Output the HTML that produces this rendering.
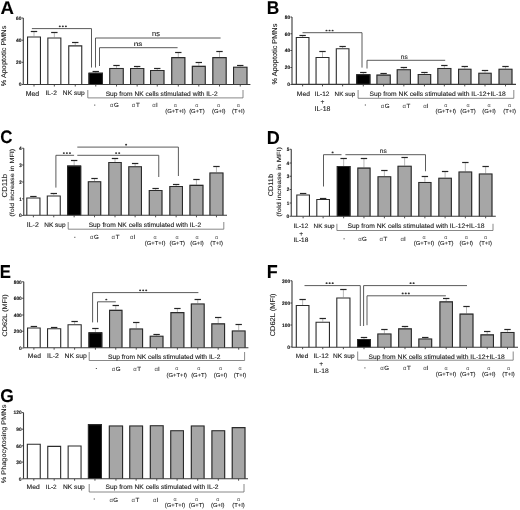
<!DOCTYPE html>
<html><head><meta charset="utf-8"><style>
html,body{margin:0;padding:0;background:#fff;}
svg{display:block;will-change:transform;filter:blur(0.3px);} text{text-rendering:geometricPrecision;stroke:#1c1c1c;stroke-width:0.1px;} text.nb{stroke:none;}
</style></head><body>
<svg width="520" height="510" viewBox="0 0 520 510">
<rect width="520" height="510" fill="#fff"/>
<text transform="translate(0.44,13.88) scale(1.014,1)" font-size="18.38" font-family="'Liberation Sans', sans-serif" font-weight="bold" fill="#000">A</text>
<line x1="23.30" y1="18.00" x2="23.30" y2="84.50" stroke="#3a3a3a" stroke-width="1.1"/>
<line x1="21.70" y1="84.50" x2="23.30" y2="84.50" stroke="#333" stroke-width="0.9"/>
<text transform="translate(18.65,86.26) scale(1.021,1)" font-size="4.90" font-family="'Liberation Sans', sans-serif" font-weight="bold" fill="#222" style="stroke-width:0.15px">0</text>
<line x1="21.70" y1="62.30" x2="23.30" y2="62.30" stroke="#333" stroke-width="0.9"/>
<text transform="translate(16.06,64.06) scale(0.981,1)" font-size="4.90" font-family="'Liberation Sans', sans-serif" font-weight="bold" fill="#222" style="stroke-width:0.15px">20</text>
<line x1="21.70" y1="40.20" x2="23.30" y2="40.20" stroke="#333" stroke-width="0.9"/>
<text transform="translate(15.96,41.96) scale(1.000,1)" font-size="4.90" font-family="'Liberation Sans', sans-serif" font-weight="bold" fill="#222" style="stroke-width:0.15px">40</text>
<line x1="21.70" y1="18.00" x2="23.30" y2="18.00" stroke="#333" stroke-width="0.9"/>
<text transform="translate(16.01,19.76) scale(0.990,1)" font-size="4.90" font-family="'Liberation Sans', sans-serif" font-weight="bold" fill="#222" style="stroke-width:0.15px">60</text>
<text transform="translate(6.30,86.19) rotate(-90) scale(1.067,1)" font-size="6.85" font-family="'Liberation Sans', sans-serif" font-weight="normal" fill="#1c1c1c" style="stroke-width:0.1px">% Apoptotic PMNs</text>
<line x1="34.00" y1="84.50" x2="34.00" y2="86.50" stroke="#3a3a3a" stroke-width="0.9"/>
<line x1="34.00" y1="36.40" x2="34.00" y2="31.80" stroke="#8a8a8a" stroke-width="0.6"/>
<line x1="30.80" y1="31.50" x2="37.20" y2="31.50" stroke="#262626" stroke-width="1.2"/>
<rect x="27.00" y="36.40" width="14.00" height="48.10" fill="#fff"/>
<path d="M27.55,84.50 V36.95 H40.45 V84.50" fill="none" stroke="#2b2b2b" stroke-width="1.1"/>
<line x1="54.35" y1="84.50" x2="54.35" y2="86.50" stroke="#3a3a3a" stroke-width="0.9"/>
<line x1="54.35" y1="37.50" x2="54.35" y2="32.50" stroke="#8a8a8a" stroke-width="0.6"/>
<line x1="51.15" y1="32.50" x2="57.55" y2="32.50" stroke="#262626" stroke-width="1.2"/>
<rect x="47.30" y="37.50" width="14.10" height="47.00" fill="#fff"/>
<path d="M47.85,84.50 V38.05 H60.85 V84.50" fill="none" stroke="#2b2b2b" stroke-width="1.1"/>
<line x1="75.25" y1="84.50" x2="75.25" y2="86.50" stroke="#3a3a3a" stroke-width="0.9"/>
<line x1="75.25" y1="45.30" x2="75.25" y2="42.70" stroke="#8a8a8a" stroke-width="0.6"/>
<line x1="72.05" y1="42.50" x2="78.45" y2="42.50" stroke="#262626" stroke-width="1.2"/>
<rect x="68.20" y="45.30" width="14.10" height="39.20" fill="#fff"/>
<path d="M68.75,84.50 V45.85 H81.75 V84.50" fill="none" stroke="#2b2b2b" stroke-width="1.1"/>
<line x1="95.75" y1="84.50" x2="95.75" y2="86.50" stroke="#3a3a3a" stroke-width="0.9"/>
<line x1="95.75" y1="72.70" x2="95.75" y2="71.50" stroke="#8a8a8a" stroke-width="0.6"/>
<line x1="92.55" y1="71.50" x2="98.95" y2="71.50" stroke="#262626" stroke-width="1.2"/>
<rect x="88.50" y="72.70" width="14.50" height="11.80" fill="#000"/>
<path d="M89.05,84.50 V73.25 H102.45 V84.50" fill="none" stroke="#2b2b2b" stroke-width="1.1"/>
<line x1="116.50" y1="84.50" x2="116.50" y2="86.50" stroke="#3a3a3a" stroke-width="0.9"/>
<line x1="116.50" y1="67.90" x2="116.50" y2="65.60" stroke="#8a8a8a" stroke-width="0.6"/>
<line x1="113.30" y1="65.50" x2="119.70" y2="65.50" stroke="#262626" stroke-width="1.2"/>
<rect x="109.20" y="67.90" width="14.60" height="16.60" fill="#a6a6a6"/>
<path d="M109.75,84.50 V68.45 H123.25 V84.50" fill="none" stroke="#2b2b2b" stroke-width="1.1"/>
<line x1="137.15" y1="84.50" x2="137.15" y2="86.50" stroke="#3a3a3a" stroke-width="0.9"/>
<line x1="137.15" y1="68.00" x2="137.15" y2="66.00" stroke="#8a8a8a" stroke-width="0.6"/>
<line x1="133.95" y1="66.50" x2="140.35" y2="66.50" stroke="#262626" stroke-width="1.2"/>
<rect x="130.00" y="68.00" width="14.30" height="16.50" fill="#a6a6a6"/>
<path d="M130.55,84.50 V68.55 H143.75 V84.50" fill="none" stroke="#2b2b2b" stroke-width="1.1"/>
<line x1="157.25" y1="84.50" x2="157.25" y2="86.50" stroke="#3a3a3a" stroke-width="0.9"/>
<line x1="157.25" y1="70.00" x2="157.25" y2="68.50" stroke="#8a8a8a" stroke-width="0.6"/>
<line x1="154.05" y1="68.50" x2="160.45" y2="68.50" stroke="#262626" stroke-width="1.2"/>
<rect x="150.00" y="70.00" width="14.50" height="14.50" fill="#a6a6a6"/>
<path d="M150.55,84.50 V70.55 H163.95 V84.50" fill="none" stroke="#2b2b2b" stroke-width="1.1"/>
<line x1="178.30" y1="84.50" x2="178.30" y2="86.50" stroke="#3a3a3a" stroke-width="0.9"/>
<line x1="178.30" y1="57.10" x2="178.30" y2="52.30" stroke="#8a8a8a" stroke-width="0.6"/>
<line x1="175.10" y1="52.50" x2="181.50" y2="52.50" stroke="#262626" stroke-width="1.2"/>
<rect x="171.20" y="57.10" width="14.20" height="27.40" fill="#a6a6a6"/>
<path d="M171.75,84.50 V57.65 H184.85 V84.50" fill="none" stroke="#2b2b2b" stroke-width="1.1"/>
<line x1="198.80" y1="84.50" x2="198.80" y2="86.50" stroke="#3a3a3a" stroke-width="0.9"/>
<line x1="198.80" y1="65.80" x2="198.80" y2="62.90" stroke="#8a8a8a" stroke-width="0.6"/>
<line x1="195.60" y1="62.50" x2="202.00" y2="62.50" stroke="#262626" stroke-width="1.2"/>
<rect x="191.80" y="65.80" width="14.00" height="18.70" fill="#a6a6a6"/>
<path d="M192.35,84.50 V66.35 H205.25 V84.50" fill="none" stroke="#2b2b2b" stroke-width="1.1"/>
<line x1="219.50" y1="84.50" x2="219.50" y2="86.50" stroke="#3a3a3a" stroke-width="0.9"/>
<line x1="219.50" y1="57.10" x2="219.50" y2="51.90" stroke="#8a8a8a" stroke-width="0.6"/>
<line x1="216.30" y1="51.50" x2="222.70" y2="51.50" stroke="#262626" stroke-width="1.2"/>
<rect x="212.30" y="57.10" width="14.40" height="27.40" fill="#a6a6a6"/>
<path d="M212.85,84.50 V57.65 H226.15 V84.50" fill="none" stroke="#2b2b2b" stroke-width="1.1"/>
<line x1="240.25" y1="84.50" x2="240.25" y2="86.50" stroke="#3a3a3a" stroke-width="0.9"/>
<line x1="240.25" y1="66.70" x2="240.25" y2="65.40" stroke="#8a8a8a" stroke-width="0.6"/>
<line x1="237.05" y1="65.50" x2="243.45" y2="65.50" stroke="#262626" stroke-width="1.2"/>
<rect x="233.00" y="66.70" width="14.50" height="17.80" fill="#a6a6a6"/>
<path d="M233.55,84.50 V67.25 H246.95 V84.50" fill="none" stroke="#2b2b2b" stroke-width="1.1"/>
<line x1="23.30" y1="84.50" x2="250.40" y2="84.50" stroke="#3a3a3a" stroke-width="1.1"/>
<text transform="translate(25.64,95.53) scale(1.030,1)" font-size="6.74" font-family="'Liberation Sans', sans-serif" font-weight="normal" fill="#1c1c1c" style="stroke-width:0.12px">Med</text>
<text transform="translate(45.50,95.44) scale(1.030,1)" font-size="6.51" font-family="'Liberation Sans', sans-serif" font-weight="normal" fill="#1c1c1c" style="stroke-width:0.12px">IL-2</text>
<text transform="translate(62.87,95.42) scale(1.030,1)" font-size="6.45" font-family="'Liberation Sans', sans-serif" font-weight="normal" fill="#1c1c1c" style="stroke-width:0.12px">NK sup</text>
<path d="M87.8,90.0 V97.9 H243.0 V90.0" fill="none" stroke="#6a6a6a" stroke-width="0.8"/>
<text transform="translate(105.67,95.52) scale(1.030,1)" font-size="6.44" font-family="'Liberation Sans', sans-serif" font-weight="normal" fill="#1c1c1c" style="stroke-width:0.12px">Sup from NK cells stimulated with IL-2</text>
<rect x="94.10" y="104.60" width="1.2" height="1.0" fill="#555"/>
<text class="nb" x="110.07" y="107.46" font-size="6.00" font-family="'Liberation Sans', sans-serif" fill="#4a4a4a">&#945;</text>
<text transform="translate(113.96,107.46) scale(1.030,1)" font-size="6.00" font-family="'Liberation Sans', sans-serif" font-weight="normal" fill="#1c1c1c">G</text>
<text class="nb" x="131.82" y="107.46" font-size="6.00" font-family="'Liberation Sans', sans-serif" fill="#4a4a4a">&#945;</text>
<text transform="translate(135.90,107.46) scale(1.030,1)" font-size="6.00" font-family="'Liberation Sans', sans-serif" font-weight="normal" fill="#1c1c1c">T</text>
<text class="nb" x="152.27" y="107.46" font-size="6.00" font-family="'Liberation Sans', sans-serif" fill="#4a4a4a">&#945;</text>
<text transform="translate(155.91,107.46) scale(1.030,1)" font-size="6.00" font-family="'Liberation Sans', sans-serif" font-weight="normal" fill="#1c1c1c">I</text>
<text class="nb" x="173.86" y="106.92" font-size="5.40" font-family="'Liberation Sans', sans-serif" fill="#4a4a4a">&#945;</text>
<text transform="translate(165.18,113.38) scale(1.030,1)" font-size="5.70" font-family="'Liberation Sans', sans-serif" font-weight="normal" fill="#1c1c1c">(G+T+I)</text>
<text class="nb" x="195.31" y="106.92" font-size="5.40" font-family="'Liberation Sans', sans-serif" fill="#4a4a4a">&#945;</text>
<text transform="translate(189.15,113.38) scale(1.030,1)" font-size="5.70" font-family="'Liberation Sans', sans-serif" font-weight="normal" fill="#1c1c1c">(G+T)</text>
<text class="nb" x="217.11" y="106.92" font-size="5.40" font-family="'Liberation Sans', sans-serif" fill="#4a4a4a">&#945;</text>
<text transform="translate(211.95,113.38) scale(1.030,1)" font-size="5.70" font-family="'Liberation Sans', sans-serif" font-weight="normal" fill="#1c1c1c">(G+I)</text>
<text class="nb" x="236.81" y="106.92" font-size="5.40" font-family="'Liberation Sans', sans-serif" fill="#4a4a4a">&#945;</text>
<text transform="translate(232.12,113.38) scale(1.030,1)" font-size="5.70" font-family="'Liberation Sans', sans-serif" font-weight="normal" fill="#1c1c1c">(T+I)</text>
<path d="M31.9,28.6 H91.5 V67.5" fill="none" stroke="#484848" stroke-width="0.9"/>
<ellipse cx="59.80" cy="26.30" rx="1.05" ry="0.85" fill="#333"/>
<ellipse cx="62.85" cy="26.30" rx="1.05" ry="0.85" fill="#333"/>
<ellipse cx="65.90" cy="26.30" rx="1.05" ry="0.85" fill="#333"/>
<path d="M95.5,67.5 V38 H220.6" fill="none" stroke="#484848" stroke-width="0.9"/>
<text transform="translate(151.98,36.33) scale(1.003,1)" font-size="7.45" font-family="'Liberation Sans', sans-serif" font-weight="normal" fill="#1c1c1c">ns</text>
<path d="M99.5,66 V47.7 H177.6" fill="none" stroke="#484848" stroke-width="0.9"/>
<text transform="translate(133.73,45.84) scale(1.290,1)" font-size="6.36" font-family="'Liberation Sans', sans-serif" font-weight="normal" fill="#1c1c1c">ns</text>
<text transform="translate(266.68,13.90) scale(0.929,1)" font-size="18.70" font-family="'Liberation Sans', sans-serif" font-weight="bold" fill="#000">B</text>
<line x1="292.00" y1="17.00" x2="292.00" y2="84.40" stroke="#3a3a3a" stroke-width="1.1"/>
<line x1="290.40" y1="84.50" x2="292.00" y2="84.50" stroke="#333" stroke-width="0.9"/>
<text transform="translate(287.35,86.26) scale(1.021,1)" font-size="4.90" font-family="'Liberation Sans', sans-serif" font-weight="bold" fill="#222" style="stroke-width:0.15px">0</text>
<line x1="290.40" y1="67.50" x2="292.00" y2="67.50" stroke="#333" stroke-width="0.9"/>
<text transform="translate(284.76,69.26) scale(0.981,1)" font-size="4.90" font-family="'Liberation Sans', sans-serif" font-weight="bold" fill="#222" style="stroke-width:0.15px">20</text>
<line x1="290.40" y1="50.50" x2="292.00" y2="50.50" stroke="#333" stroke-width="0.9"/>
<text transform="translate(284.66,52.26) scale(1.000,1)" font-size="4.90" font-family="'Liberation Sans', sans-serif" font-weight="bold" fill="#222" style="stroke-width:0.15px">40</text>
<line x1="290.40" y1="33.75" x2="292.00" y2="33.75" stroke="#333" stroke-width="0.9"/>
<text transform="translate(284.71,35.51) scale(0.990,1)" font-size="4.90" font-family="'Liberation Sans', sans-serif" font-weight="bold" fill="#222" style="stroke-width:0.15px">60</text>
<line x1="290.40" y1="17.00" x2="292.00" y2="17.00" stroke="#333" stroke-width="0.9"/>
<text transform="translate(284.71,18.76) scale(0.990,1)" font-size="4.90" font-family="'Liberation Sans', sans-serif" font-weight="bold" fill="#222" style="stroke-width:0.15px">80</text>
<text transform="translate(277.40,84.39) rotate(-90) scale(1.031,1)" font-size="7.12" font-family="'Liberation Sans', sans-serif" font-weight="normal" fill="#1c1c1c" style="stroke-width:0.1px">% Apoptotic PMNs</text>
<line x1="302.62" y1="84.40" x2="302.62" y2="86.40" stroke="#3a3a3a" stroke-width="0.9"/>
<line x1="302.62" y1="37.00" x2="302.62" y2="35.75" stroke="#8a8a8a" stroke-width="0.6"/>
<line x1="299.43" y1="35.50" x2="305.82" y2="35.50" stroke="#262626" stroke-width="1.2"/>
<rect x="295.75" y="37.00" width="13.75" height="47.40" fill="#fff"/>
<path d="M296.30,84.40 V37.55 H308.95 V84.40" fill="none" stroke="#2b2b2b" stroke-width="1.1"/>
<line x1="322.50" y1="84.40" x2="322.50" y2="86.40" stroke="#3a3a3a" stroke-width="0.9"/>
<line x1="322.50" y1="57.00" x2="322.50" y2="51.20" stroke="#8a8a8a" stroke-width="0.6"/>
<line x1="319.30" y1="51.50" x2="325.70" y2="51.50" stroke="#262626" stroke-width="1.2"/>
<rect x="315.50" y="57.00" width="14.00" height="27.40" fill="#fff"/>
<path d="M316.05,84.40 V57.55 H328.95 V84.40" fill="none" stroke="#2b2b2b" stroke-width="1.1"/>
<line x1="342.62" y1="84.40" x2="342.62" y2="86.40" stroke="#3a3a3a" stroke-width="0.9"/>
<line x1="342.62" y1="48.25" x2="342.62" y2="46.75" stroke="#8a8a8a" stroke-width="0.6"/>
<line x1="339.43" y1="46.50" x2="345.82" y2="46.50" stroke="#262626" stroke-width="1.2"/>
<rect x="335.75" y="48.25" width="13.75" height="36.15" fill="#fff"/>
<path d="M336.30,84.40 V48.80 H348.95 V84.40" fill="none" stroke="#2b2b2b" stroke-width="1.1"/>
<line x1="363.30" y1="84.40" x2="363.30" y2="86.40" stroke="#3a3a3a" stroke-width="0.9"/>
<line x1="363.30" y1="74.25" x2="363.30" y2="72.50" stroke="#8a8a8a" stroke-width="0.6"/>
<line x1="360.10" y1="72.50" x2="366.50" y2="72.50" stroke="#262626" stroke-width="1.2"/>
<rect x="356.20" y="74.25" width="14.20" height="10.15" fill="#000"/>
<path d="M356.75,84.40 V74.80 H369.85 V84.40" fill="none" stroke="#2b2b2b" stroke-width="1.1"/>
<line x1="383.60" y1="84.40" x2="383.60" y2="86.40" stroke="#3a3a3a" stroke-width="0.9"/>
<line x1="383.60" y1="74.60" x2="383.60" y2="73.00" stroke="#8a8a8a" stroke-width="0.6"/>
<line x1="380.40" y1="73.50" x2="386.80" y2="73.50" stroke="#262626" stroke-width="1.2"/>
<rect x="376.40" y="74.60" width="14.40" height="9.80" fill="#a6a6a6"/>
<path d="M376.95,84.40 V75.15 H390.25 V84.40" fill="none" stroke="#2b2b2b" stroke-width="1.1"/>
<line x1="403.85" y1="84.40" x2="403.85" y2="86.40" stroke="#3a3a3a" stroke-width="0.9"/>
<line x1="403.85" y1="69.20" x2="403.85" y2="67.30" stroke="#8a8a8a" stroke-width="0.6"/>
<line x1="400.65" y1="67.50" x2="407.05" y2="67.50" stroke="#262626" stroke-width="1.2"/>
<rect x="396.70" y="69.20" width="14.30" height="15.20" fill="#a6a6a6"/>
<path d="M397.25,84.40 V69.75 H410.45 V84.40" fill="none" stroke="#2b2b2b" stroke-width="1.1"/>
<line x1="424.45" y1="84.40" x2="424.45" y2="86.40" stroke="#3a3a3a" stroke-width="0.9"/>
<line x1="424.45" y1="74.00" x2="424.45" y2="72.70" stroke="#8a8a8a" stroke-width="0.6"/>
<line x1="421.25" y1="72.50" x2="427.65" y2="72.50" stroke="#262626" stroke-width="1.2"/>
<rect x="417.70" y="74.00" width="13.50" height="10.40" fill="#a6a6a6"/>
<path d="M418.25,84.40 V74.55 H430.65 V84.40" fill="none" stroke="#2b2b2b" stroke-width="1.1"/>
<line x1="444.35" y1="84.40" x2="444.35" y2="86.40" stroke="#3a3a3a" stroke-width="0.9"/>
<line x1="444.35" y1="67.90" x2="444.35" y2="65.20" stroke="#8a8a8a" stroke-width="0.6"/>
<line x1="441.15" y1="65.50" x2="447.55" y2="65.50" stroke="#262626" stroke-width="1.2"/>
<rect x="437.30" y="67.90" width="14.10" height="16.50" fill="#a6a6a6"/>
<path d="M437.85,84.40 V68.45 H450.85 V84.40" fill="none" stroke="#2b2b2b" stroke-width="1.1"/>
<line x1="464.75" y1="84.40" x2="464.75" y2="86.40" stroke="#3a3a3a" stroke-width="0.9"/>
<line x1="464.75" y1="68.70" x2="464.75" y2="66.00" stroke="#8a8a8a" stroke-width="0.6"/>
<line x1="461.55" y1="66.50" x2="467.95" y2="66.50" stroke="#262626" stroke-width="1.2"/>
<rect x="458.00" y="68.70" width="13.50" height="15.70" fill="#a6a6a6"/>
<path d="M458.55,84.40 V69.25 H470.95 V84.40" fill="none" stroke="#2b2b2b" stroke-width="1.1"/>
<line x1="485.00" y1="84.40" x2="485.00" y2="86.40" stroke="#3a3a3a" stroke-width="0.9"/>
<line x1="485.00" y1="72.70" x2="485.00" y2="70.80" stroke="#8a8a8a" stroke-width="0.6"/>
<line x1="481.80" y1="70.50" x2="488.20" y2="70.50" stroke="#262626" stroke-width="1.2"/>
<rect x="478.30" y="72.70" width="13.40" height="11.70" fill="#a6a6a6"/>
<path d="M478.85,84.40 V73.25 H491.15 V84.40" fill="none" stroke="#2b2b2b" stroke-width="1.1"/>
<line x1="505.50" y1="84.40" x2="505.50" y2="86.40" stroke="#3a3a3a" stroke-width="0.9"/>
<line x1="505.50" y1="68.70" x2="505.50" y2="66.00" stroke="#8a8a8a" stroke-width="0.6"/>
<line x1="502.30" y1="66.50" x2="508.70" y2="66.50" stroke="#262626" stroke-width="1.2"/>
<rect x="498.50" y="68.70" width="14.00" height="15.70" fill="#a6a6a6"/>
<path d="M499.05,84.40 V69.25 H511.95 V84.40" fill="none" stroke="#2b2b2b" stroke-width="1.1"/>
<line x1="292.00" y1="84.40" x2="516.00" y2="84.40" stroke="#3a3a3a" stroke-width="1.1"/>
<text transform="translate(296.86,95.85) scale(1.030,1)" font-size="6.53" font-family="'Liberation Sans', sans-serif" font-weight="normal" fill="#1c1c1c" style="stroke-width:0.12px">Med</text>
<text transform="translate(314.62,95.77) scale(1.030,1)" font-size="6.31" font-family="'Liberation Sans', sans-serif" font-weight="normal" fill="#1c1c1c" style="stroke-width:0.12px">IL-12</text>
<text transform="translate(320.51,104.24) scale(1.030,1)" font-size="6.50" font-family="'Liberation Sans', sans-serif" font-weight="normal" fill="#1c1c1c">+</text>
<text transform="translate(314.57,110.93) scale(1.030,1)" font-size="6.76" font-family="'Liberation Sans', sans-serif" font-weight="normal" fill="#1c1c1c" style="stroke-width:0.12px">IL-18</text>
<text transform="translate(334.60,95.70) scale(1.030,1)" font-size="6.11" font-family="'Liberation Sans', sans-serif" font-weight="normal" fill="#1c1c1c" style="stroke-width:0.12px">NK sup</text>
<path d="M358.1,90.0 V98.3 H513.8 V90.0" fill="none" stroke="#6a6a6a" stroke-width="0.8"/>
<text transform="translate(369.46,95.55) scale(1.030,1)" font-size="6.52" font-family="'Liberation Sans', sans-serif" font-weight="normal" fill="#1c1c1c" style="stroke-width:0.12px">Sup from NK cells stimulated with IL-12+IL-18</text>
<rect x="364.80" y="104.50" width="1.2" height="1.0" fill="#555"/>
<text class="nb" x="380.77" y="108.16" font-size="6.00" font-family="'Liberation Sans', sans-serif" fill="#4a4a4a">&#945;</text>
<text transform="translate(384.66,108.16) scale(1.030,1)" font-size="6.00" font-family="'Liberation Sans', sans-serif" font-weight="normal" fill="#1c1c1c">G</text>
<text class="nb" x="402.52" y="108.16" font-size="6.00" font-family="'Liberation Sans', sans-serif" fill="#4a4a4a">&#945;</text>
<text transform="translate(406.60,108.16) scale(1.030,1)" font-size="6.00" font-family="'Liberation Sans', sans-serif" font-weight="normal" fill="#1c1c1c">T</text>
<text class="nb" x="423.17" y="108.16" font-size="6.00" font-family="'Liberation Sans', sans-serif" fill="#4a4a4a">&#945;</text>
<text transform="translate(426.81,108.16) scale(1.030,1)" font-size="6.00" font-family="'Liberation Sans', sans-serif" font-weight="normal" fill="#1c1c1c">I</text>
<text class="nb" x="444.21" y="107.32" font-size="5.40" font-family="'Liberation Sans', sans-serif" fill="#4a4a4a">&#945;</text>
<text transform="translate(435.53,113.38) scale(1.030,1)" font-size="5.70" font-family="'Liberation Sans', sans-serif" font-weight="normal" fill="#1c1c1c">(G+T+I)</text>
<text class="nb" x="466.41" y="107.32" font-size="5.40" font-family="'Liberation Sans', sans-serif" fill="#4a4a4a">&#945;</text>
<text transform="translate(460.25,113.38) scale(1.030,1)" font-size="5.70" font-family="'Liberation Sans', sans-serif" font-weight="normal" fill="#1c1c1c">(G+T)</text>
<text class="nb" x="487.41" y="107.32" font-size="5.40" font-family="'Liberation Sans', sans-serif" fill="#4a4a4a">&#945;</text>
<text transform="translate(482.25,113.38) scale(1.030,1)" font-size="5.70" font-family="'Liberation Sans', sans-serif" font-weight="normal" fill="#1c1c1c">(G+I)</text>
<text class="nb" x="508.01" y="107.32" font-size="5.40" font-family="'Liberation Sans', sans-serif" fill="#4a4a4a">&#945;</text>
<text transform="translate(503.32,113.38) scale(1.030,1)" font-size="5.70" font-family="'Liberation Sans', sans-serif" font-weight="normal" fill="#1c1c1c">(T+I)</text>
<path d="M302.5,32.7 H362 V67.6" fill="none" stroke="#484848" stroke-width="0.9"/>
<ellipse cx="326.50" cy="30.50" rx="1.05" ry="0.85" fill="#333"/>
<ellipse cx="329.55" cy="30.50" rx="1.05" ry="0.85" fill="#333"/>
<ellipse cx="332.60" cy="30.50" rx="1.05" ry="0.85" fill="#333"/>
<path d="M367,68.5 V60.3 H445.2" fill="none" stroke="#484848" stroke-width="0.9"/>
<text transform="translate(400.84,58.83) scale(1.013,1)" font-size="6.55" font-family="'Liberation Sans', sans-serif" font-weight="normal" fill="#1c1c1c">ns</text>
<text transform="translate(0.32,142.92) scale(0.931,1)" font-size="18.17" font-family="'Liberation Sans', sans-serif" font-weight="bold" fill="#000">C</text>
<line x1="23.75" y1="148.25" x2="23.75" y2="215.30" stroke="#3a3a3a" stroke-width="1.1"/>
<line x1="22.15" y1="215.50" x2="23.75" y2="215.50" stroke="#333" stroke-width="0.9"/>
<text transform="translate(19.10,217.26) scale(1.021,1)" font-size="4.90" font-family="'Liberation Sans', sans-serif" font-weight="bold" fill="#222" style="stroke-width:0.15px">0</text>
<line x1="22.15" y1="198.75" x2="23.75" y2="198.75" stroke="#333" stroke-width="0.9"/>
<text transform="translate(19.27,200.51) scale(0.915,1)" font-size="4.90" font-family="'Liberation Sans', sans-serif" font-weight="bold" fill="#222" style="stroke-width:0.15px">1</text>
<line x1="22.15" y1="182.00" x2="23.75" y2="182.00" stroke="#333" stroke-width="0.9"/>
<text transform="translate(19.26,183.76) scale(0.939,1)" font-size="4.90" font-family="'Liberation Sans', sans-serif" font-weight="bold" fill="#222" style="stroke-width:0.15px">2</text>
<line x1="22.15" y1="165.00" x2="23.75" y2="165.00" stroke="#333" stroke-width="0.9"/>
<text transform="translate(19.25,166.76) scale(0.940,1)" font-size="4.90" font-family="'Liberation Sans', sans-serif" font-weight="bold" fill="#222" style="stroke-width:0.15px">3</text>
<line x1="22.15" y1="148.25" x2="23.75" y2="148.25" stroke="#333" stroke-width="0.9"/>
<text transform="translate(19.06,150.01) scale(0.962,1)" font-size="4.90" font-family="'Liberation Sans', sans-serif" font-weight="bold" fill="#222" style="stroke-width:0.15px">4</text>
<text transform="translate(6.60,197.38) rotate(-90) scale(1.060,1)" font-size="7.26" font-family="'Liberation Sans', sans-serif" font-weight="normal" fill="#1c1c1c" style="stroke-width:0.1px">CD11b</text>
<text transform="translate(13.80,216.74) rotate(-90) scale(1.204,1)" font-size="6.03" font-family="'Liberation Sans', sans-serif" font-weight="normal" fill="#1c1c1c" style="stroke-width:0.1px">(fold increase in MFI)</text>
<line x1="33.38" y1="215.30" x2="33.38" y2="217.30" stroke="#3a3a3a" stroke-width="0.9"/>
<line x1="33.38" y1="197.50" x2="33.38" y2="196.25" stroke="#8a8a8a" stroke-width="0.6"/>
<line x1="30.18" y1="196.50" x2="36.58" y2="196.50" stroke="#262626" stroke-width="1.2"/>
<rect x="26.25" y="197.50" width="14.25" height="17.80" fill="#fff"/>
<path d="M26.80,215.30 V198.05 H39.95 V215.30" fill="none" stroke="#2b2b2b" stroke-width="1.1"/>
<line x1="53.77" y1="215.30" x2="53.77" y2="217.30" stroke="#3a3a3a" stroke-width="0.9"/>
<line x1="53.77" y1="195.40" x2="53.77" y2="193.60" stroke="#8a8a8a" stroke-width="0.6"/>
<line x1="50.57" y1="193.50" x2="56.98" y2="193.50" stroke="#262626" stroke-width="1.2"/>
<rect x="46.75" y="195.40" width="14.05" height="19.90" fill="#fff"/>
<path d="M47.30,215.30 V195.95 H60.25 V215.30" fill="none" stroke="#2b2b2b" stroke-width="1.1"/>
<line x1="74.15" y1="215.30" x2="74.15" y2="217.30" stroke="#3a3a3a" stroke-width="0.9"/>
<line x1="74.15" y1="165.60" x2="74.15" y2="160.20" stroke="#8a8a8a" stroke-width="0.6"/>
<line x1="70.95" y1="160.50" x2="77.35" y2="160.50" stroke="#262626" stroke-width="1.2"/>
<rect x="67.10" y="165.60" width="14.10" height="49.70" fill="#000"/>
<path d="M67.65,215.30 V166.15 H80.65 V215.30" fill="none" stroke="#2b2b2b" stroke-width="1.1"/>
<line x1="94.53" y1="215.30" x2="94.53" y2="217.30" stroke="#3a3a3a" stroke-width="0.9"/>
<line x1="94.53" y1="181.20" x2="94.53" y2="178.60" stroke="#8a8a8a" stroke-width="0.6"/>
<line x1="91.33" y1="178.50" x2="97.73" y2="178.50" stroke="#262626" stroke-width="1.2"/>
<rect x="87.80" y="181.20" width="13.45" height="34.10" fill="#a6a6a6"/>
<path d="M88.35,215.30 V181.75 H100.70 V215.30" fill="none" stroke="#2b2b2b" stroke-width="1.1"/>
<line x1="115.00" y1="215.30" x2="115.00" y2="217.30" stroke="#3a3a3a" stroke-width="0.9"/>
<line x1="115.00" y1="162.00" x2="115.00" y2="158.20" stroke="#8a8a8a" stroke-width="0.6"/>
<line x1="111.80" y1="158.50" x2="118.20" y2="158.50" stroke="#262626" stroke-width="1.2"/>
<rect x="108.25" y="162.00" width="13.50" height="53.30" fill="#a6a6a6"/>
<path d="M108.80,215.30 V162.55 H121.20 V215.30" fill="none" stroke="#2b2b2b" stroke-width="1.1"/>
<line x1="135.12" y1="215.30" x2="135.12" y2="217.30" stroke="#3a3a3a" stroke-width="0.9"/>
<line x1="135.12" y1="166.25" x2="135.12" y2="163.25" stroke="#8a8a8a" stroke-width="0.6"/>
<line x1="131.93" y1="163.50" x2="138.32" y2="163.50" stroke="#262626" stroke-width="1.2"/>
<rect x="128.25" y="166.25" width="13.75" height="49.05" fill="#a6a6a6"/>
<path d="M128.80,215.30 V166.80 H141.45 V215.30" fill="none" stroke="#2b2b2b" stroke-width="1.1"/>
<line x1="155.62" y1="215.30" x2="155.62" y2="217.30" stroke="#3a3a3a" stroke-width="0.9"/>
<line x1="155.62" y1="190.00" x2="155.62" y2="188.75" stroke="#8a8a8a" stroke-width="0.6"/>
<line x1="152.43" y1="188.50" x2="158.82" y2="188.50" stroke="#262626" stroke-width="1.2"/>
<rect x="148.75" y="190.00" width="13.75" height="25.30" fill="#a6a6a6"/>
<path d="M149.30,215.30 V190.55 H161.95 V215.30" fill="none" stroke="#2b2b2b" stroke-width="1.1"/>
<line x1="176.15" y1="215.30" x2="176.15" y2="217.30" stroke="#3a3a3a" stroke-width="0.9"/>
<line x1="176.15" y1="186.00" x2="176.15" y2="184.20" stroke="#8a8a8a" stroke-width="0.6"/>
<line x1="172.95" y1="184.50" x2="179.35" y2="184.50" stroke="#262626" stroke-width="1.2"/>
<rect x="169.30" y="186.00" width="13.70" height="29.30" fill="#a6a6a6"/>
<path d="M169.85,215.30 V186.55 H182.45 V215.30" fill="none" stroke="#2b2b2b" stroke-width="1.1"/>
<line x1="196.45" y1="215.30" x2="196.45" y2="217.30" stroke="#3a3a3a" stroke-width="0.9"/>
<line x1="196.45" y1="184.80" x2="196.45" y2="179.40" stroke="#8a8a8a" stroke-width="0.6"/>
<line x1="193.25" y1="179.50" x2="199.65" y2="179.50" stroke="#262626" stroke-width="1.2"/>
<rect x="189.40" y="184.80" width="14.10" height="30.50" fill="#a6a6a6"/>
<path d="M189.95,215.30 V185.35 H202.95 V215.30" fill="none" stroke="#2b2b2b" stroke-width="1.1"/>
<line x1="216.45" y1="215.30" x2="216.45" y2="217.30" stroke="#3a3a3a" stroke-width="0.9"/>
<line x1="216.45" y1="172.40" x2="216.45" y2="166.00" stroke="#8a8a8a" stroke-width="0.6"/>
<line x1="213.25" y1="166.50" x2="219.65" y2="166.50" stroke="#262626" stroke-width="1.2"/>
<rect x="209.40" y="172.40" width="14.10" height="42.90" fill="#a6a6a6"/>
<path d="M209.95,215.30 V172.95 H222.95 V215.30" fill="none" stroke="#2b2b2b" stroke-width="1.1"/>
<line x1="23.75" y1="215.30" x2="227.00" y2="215.30" stroke="#3a3a3a" stroke-width="1.1"/>
<text transform="translate(26.77,227.03) scale(1.030,1)" font-size="6.76" font-family="'Liberation Sans', sans-serif" font-weight="normal" fill="#1c1c1c" style="stroke-width:0.12px">IL-2</text>
<text transform="translate(44.18,226.88) scale(1.030,1)" font-size="6.33" font-family="'Liberation Sans', sans-serif" font-weight="normal" fill="#1c1c1c" style="stroke-width:0.12px">NK sup</text>
<path d="M68.2,222.0 V229.2 H223.8 V222.0" fill="none" stroke="#6a6a6a" stroke-width="0.8"/>
<text transform="translate(88.67,226.83) scale(1.030,1)" font-size="6.47" font-family="'Liberation Sans', sans-serif" font-weight="normal" fill="#1c1c1c" style="stroke-width:0.12px">Sup from NK cells stimulated with IL-2</text>
<rect x="74.20" y="236.80" width="1.2" height="1.0" fill="#555"/>
<text class="nb" x="90.07" y="239.46" font-size="6.00" font-family="'Liberation Sans', sans-serif" fill="#4a4a4a">&#945;</text>
<text transform="translate(93.96,239.46) scale(1.030,1)" font-size="6.00" font-family="'Liberation Sans', sans-serif" font-weight="normal" fill="#1c1c1c">G</text>
<text class="nb" x="111.62" y="239.46" font-size="6.00" font-family="'Liberation Sans', sans-serif" fill="#4a4a4a">&#945;</text>
<text transform="translate(115.70,239.46) scale(1.030,1)" font-size="6.00" font-family="'Liberation Sans', sans-serif" font-weight="normal" fill="#1c1c1c">T</text>
<text class="nb" x="129.97" y="239.46" font-size="6.00" font-family="'Liberation Sans', sans-serif" fill="#4a4a4a">&#945;</text>
<text transform="translate(133.61,239.46) scale(1.030,1)" font-size="6.00" font-family="'Liberation Sans', sans-serif" font-weight="normal" fill="#1c1c1c">I</text>
<text class="nb" x="153.51" y="238.92" font-size="5.40" font-family="'Liberation Sans', sans-serif" fill="#4a4a4a">&#945;</text>
<text transform="translate(144.83,245.08) scale(1.030,1)" font-size="5.70" font-family="'Liberation Sans', sans-serif" font-weight="normal" fill="#1c1c1c">(G+T+I)</text>
<text class="nb" x="175.61" y="238.92" font-size="5.40" font-family="'Liberation Sans', sans-serif" fill="#4a4a4a">&#945;</text>
<text transform="translate(169.45,245.08) scale(1.030,1)" font-size="5.70" font-family="'Liberation Sans', sans-serif" font-weight="normal" fill="#1c1c1c">(G+T)</text>
<text class="nb" x="195.41" y="238.92" font-size="5.40" font-family="'Liberation Sans', sans-serif" fill="#4a4a4a">&#945;</text>
<text transform="translate(190.25,245.08) scale(1.030,1)" font-size="5.70" font-family="'Liberation Sans', sans-serif" font-weight="normal" fill="#1c1c1c">(G+I)</text>
<text class="nb" x="215.01" y="238.92" font-size="5.40" font-family="'Liberation Sans', sans-serif" fill="#4a4a4a">&#945;</text>
<text transform="translate(210.32,245.08) scale(1.030,1)" font-size="5.70" font-family="'Liberation Sans', sans-serif" font-weight="normal" fill="#1c1c1c">(T+I)</text>
<path d="M55.9,187.6 V155.3 H74.1" fill="none" stroke="#484848" stroke-width="0.9"/>
<ellipse cx="63.85" cy="153.10" rx="1.05" ry="0.85" fill="#333"/>
<ellipse cx="66.90" cy="153.10" rx="1.05" ry="0.85" fill="#333"/>
<ellipse cx="69.95" cy="153.10" rx="1.05" ry="0.85" fill="#333"/>
<path d="M77.3,155.3 H158.75 V177" fill="none" stroke="#484848" stroke-width="0.9"/>
<ellipse cx="116.12" cy="153.10" rx="1.05" ry="0.85" fill="#333"/>
<ellipse cx="119.18" cy="153.10" rx="1.05" ry="0.85" fill="#333"/>
<path d="M77.3,147.1 H178.4 V176" fill="none" stroke="#484848" stroke-width="0.9"/>
<ellipse cx="126.10" cy="144.70" rx="1.05" ry="0.85" fill="#333"/>
<text transform="translate(266.64,143.70) scale(0.957,1)" font-size="18.84" font-family="'Liberation Sans', sans-serif" font-weight="bold" fill="#000">D</text>
<line x1="291.25" y1="149.25" x2="291.25" y2="216.30" stroke="#3a3a3a" stroke-width="1.1"/>
<line x1="289.65" y1="216.25" x2="291.25" y2="216.25" stroke="#333" stroke-width="0.9"/>
<text transform="translate(286.60,218.01) scale(1.021,1)" font-size="4.90" font-family="'Liberation Sans', sans-serif" font-weight="bold" fill="#222" style="stroke-width:0.15px">0</text>
<line x1="289.65" y1="203.00" x2="291.25" y2="203.00" stroke="#333" stroke-width="0.9"/>
<text transform="translate(286.77,204.76) scale(0.915,1)" font-size="4.90" font-family="'Liberation Sans', sans-serif" font-weight="bold" fill="#222" style="stroke-width:0.15px">1</text>
<line x1="289.65" y1="189.50" x2="291.25" y2="189.50" stroke="#333" stroke-width="0.9"/>
<text transform="translate(286.76,191.26) scale(0.939,1)" font-size="4.90" font-family="'Liberation Sans', sans-serif" font-weight="bold" fill="#222" style="stroke-width:0.15px">2</text>
<line x1="289.65" y1="176.25" x2="291.25" y2="176.25" stroke="#333" stroke-width="0.9"/>
<text transform="translate(286.75,178.01) scale(0.940,1)" font-size="4.90" font-family="'Liberation Sans', sans-serif" font-weight="bold" fill="#222" style="stroke-width:0.15px">3</text>
<line x1="289.65" y1="163.00" x2="291.25" y2="163.00" stroke="#333" stroke-width="0.9"/>
<text transform="translate(286.56,164.76) scale(0.962,1)" font-size="4.90" font-family="'Liberation Sans', sans-serif" font-weight="bold" fill="#222" style="stroke-width:0.15px">4</text>
<line x1="289.65" y1="149.25" x2="291.25" y2="149.25" stroke="#333" stroke-width="0.9"/>
<text transform="translate(286.71,151.01) scale(0.940,1)" font-size="4.90" font-family="'Liberation Sans', sans-serif" font-weight="bold" fill="#222" style="stroke-width:0.15px">5</text>
<text transform="translate(273.30,196.37) rotate(-90) scale(1.074,1)" font-size="6.85" font-family="'Liberation Sans', sans-serif" font-weight="normal" fill="#1c1c1c" style="stroke-width:0.1px">CD11b</text>
<text transform="translate(280.80,216.75) rotate(-90) scale(1.235,1)" font-size="6.03" font-family="'Liberation Sans', sans-serif" font-weight="normal" fill="#1c1c1c" style="stroke-width:0.1px">(fold increase in MFI)</text>
<line x1="303.12" y1="216.30" x2="303.12" y2="218.30" stroke="#3a3a3a" stroke-width="0.9"/>
<line x1="303.12" y1="194.50" x2="303.12" y2="193.00" stroke="#8a8a8a" stroke-width="0.6"/>
<line x1="299.93" y1="193.50" x2="306.32" y2="193.50" stroke="#262626" stroke-width="1.2"/>
<rect x="296.25" y="194.50" width="13.75" height="21.80" fill="#fff"/>
<path d="M296.80,216.30 V195.05 H309.45 V216.30" fill="none" stroke="#2b2b2b" stroke-width="1.1"/>
<line x1="323.12" y1="216.30" x2="323.12" y2="218.30" stroke="#3a3a3a" stroke-width="0.9"/>
<line x1="323.12" y1="199.00" x2="323.12" y2="198.00" stroke="#8a8a8a" stroke-width="0.6"/>
<line x1="319.93" y1="198.50" x2="326.32" y2="198.50" stroke="#262626" stroke-width="1.2"/>
<rect x="316.25" y="199.00" width="13.75" height="17.30" fill="#fff"/>
<path d="M316.80,216.30 V199.55 H329.45 V216.30" fill="none" stroke="#2b2b2b" stroke-width="1.1"/>
<line x1="343.65" y1="216.30" x2="343.65" y2="218.30" stroke="#3a3a3a" stroke-width="0.9"/>
<line x1="343.65" y1="166.00" x2="343.65" y2="158.60" stroke="#8a8a8a" stroke-width="0.6"/>
<line x1="340.45" y1="158.50" x2="346.85" y2="158.50" stroke="#262626" stroke-width="1.2"/>
<rect x="336.80" y="166.00" width="13.70" height="50.30" fill="#000"/>
<path d="M337.35,216.30 V166.55 H349.95 V216.30" fill="none" stroke="#2b2b2b" stroke-width="1.1"/>
<line x1="363.95" y1="216.30" x2="363.95" y2="218.30" stroke="#3a3a3a" stroke-width="0.9"/>
<line x1="363.95" y1="167.60" x2="363.95" y2="158.80" stroke="#8a8a8a" stroke-width="0.6"/>
<line x1="360.75" y1="158.50" x2="367.15" y2="158.50" stroke="#262626" stroke-width="1.2"/>
<rect x="357.30" y="167.60" width="13.30" height="48.70" fill="#a6a6a6"/>
<path d="M357.85,216.30 V168.15 H370.05 V216.30" fill="none" stroke="#2b2b2b" stroke-width="1.1"/>
<line x1="384.38" y1="216.30" x2="384.38" y2="218.30" stroke="#3a3a3a" stroke-width="0.9"/>
<line x1="384.38" y1="176.25" x2="384.38" y2="170.90" stroke="#8a8a8a" stroke-width="0.6"/>
<line x1="381.18" y1="170.50" x2="387.57" y2="170.50" stroke="#262626" stroke-width="1.2"/>
<rect x="377.50" y="176.25" width="13.75" height="40.05" fill="#a6a6a6"/>
<path d="M378.05,216.30 V176.80 H390.70 V216.30" fill="none" stroke="#2b2b2b" stroke-width="1.1"/>
<line x1="404.62" y1="216.30" x2="404.62" y2="218.30" stroke="#3a3a3a" stroke-width="0.9"/>
<line x1="404.62" y1="165.75" x2="404.62" y2="157.00" stroke="#8a8a8a" stroke-width="0.6"/>
<line x1="401.43" y1="157.50" x2="407.82" y2="157.50" stroke="#262626" stroke-width="1.2"/>
<rect x="397.50" y="165.75" width="14.25" height="50.55" fill="#a6a6a6"/>
<path d="M398.05,216.30 V166.30 H411.20 V216.30" fill="none" stroke="#2b2b2b" stroke-width="1.1"/>
<line x1="424.88" y1="216.30" x2="424.88" y2="218.30" stroke="#3a3a3a" stroke-width="0.9"/>
<line x1="424.88" y1="181.90" x2="424.88" y2="176.90" stroke="#8a8a8a" stroke-width="0.6"/>
<line x1="421.68" y1="176.50" x2="428.07" y2="176.50" stroke="#262626" stroke-width="1.2"/>
<rect x="418.25" y="181.90" width="13.25" height="34.40" fill="#a6a6a6"/>
<path d="M418.80,216.30 V182.45 H430.95 V216.30" fill="none" stroke="#2b2b2b" stroke-width="1.1"/>
<line x1="445.10" y1="216.30" x2="445.10" y2="218.30" stroke="#3a3a3a" stroke-width="0.9"/>
<line x1="445.10" y1="177.70" x2="445.10" y2="171.40" stroke="#8a8a8a" stroke-width="0.6"/>
<line x1="441.90" y1="171.50" x2="448.30" y2="171.50" stroke="#262626" stroke-width="1.2"/>
<rect x="438.30" y="177.70" width="13.60" height="38.60" fill="#a6a6a6"/>
<path d="M438.85,216.30 V178.25 H451.35 V216.30" fill="none" stroke="#2b2b2b" stroke-width="1.1"/>
<line x1="465.35" y1="216.30" x2="465.35" y2="218.30" stroke="#3a3a3a" stroke-width="0.9"/>
<line x1="465.35" y1="171.50" x2="465.35" y2="162.80" stroke="#8a8a8a" stroke-width="0.6"/>
<line x1="462.15" y1="162.50" x2="468.55" y2="162.50" stroke="#262626" stroke-width="1.2"/>
<rect x="458.50" y="171.50" width="13.70" height="44.80" fill="#a6a6a6"/>
<path d="M459.05,216.30 V172.05 H471.65 V216.30" fill="none" stroke="#2b2b2b" stroke-width="1.1"/>
<line x1="485.65" y1="216.30" x2="485.65" y2="218.30" stroke="#3a3a3a" stroke-width="0.9"/>
<line x1="485.65" y1="173.50" x2="485.65" y2="166.50" stroke="#8a8a8a" stroke-width="0.6"/>
<line x1="482.45" y1="166.50" x2="488.85" y2="166.50" stroke="#262626" stroke-width="1.2"/>
<rect x="478.80" y="173.50" width="13.70" height="42.80" fill="#a6a6a6"/>
<path d="M479.35,216.30 V174.05 H491.95 V216.30" fill="none" stroke="#2b2b2b" stroke-width="1.1"/>
<line x1="291.25" y1="216.30" x2="495.80" y2="216.30" stroke="#3a3a3a" stroke-width="1.1"/>
<text transform="translate(293.52,227.97) scale(1.030,1)" font-size="6.31" font-family="'Liberation Sans', sans-serif" font-weight="normal" fill="#1c1c1c" style="stroke-width:0.12px">IL-12</text>
<text transform="translate(299.16,236.04) scale(1.030,1)" font-size="6.50" font-family="'Liberation Sans', sans-serif" font-weight="normal" fill="#1c1c1c">+</text>
<text transform="translate(293.52,242.37) scale(1.030,1)" font-size="6.31" font-family="'Liberation Sans', sans-serif" font-weight="normal" fill="#1c1c1c" style="stroke-width:0.12px">IL-18</text>
<text transform="translate(313.59,228.13) scale(1.030,1)" font-size="6.21" font-family="'Liberation Sans', sans-serif" font-weight="normal" fill="#1c1c1c" style="stroke-width:0.12px">NK sup</text>
<path d="M336.9,223.8 V230.5 H493.0 V223.8" fill="none" stroke="#6a6a6a" stroke-width="0.8"/>
<text transform="translate(347.46,227.86) scale(1.030,1)" font-size="6.56" font-family="'Liberation Sans', sans-serif" font-weight="normal" fill="#1c1c1c" style="stroke-width:0.12px">Sup from NK cells stimulated with IL-12+IL-18</text>
<rect x="343.50" y="238.30" width="1.2" height="1.0" fill="#555"/>
<text class="nb" x="358.17" y="240.66" font-size="6.00" font-family="'Liberation Sans', sans-serif" fill="#4a4a4a">&#945;</text>
<text transform="translate(362.06,240.66) scale(1.030,1)" font-size="6.00" font-family="'Liberation Sans', sans-serif" font-weight="normal" fill="#1c1c1c">G</text>
<text class="nb" x="379.52" y="240.66" font-size="6.00" font-family="'Liberation Sans', sans-serif" fill="#4a4a4a">&#945;</text>
<text transform="translate(383.60,240.66) scale(1.030,1)" font-size="6.00" font-family="'Liberation Sans', sans-serif" font-weight="normal" fill="#1c1c1c">T</text>
<text class="nb" x="400.47" y="240.66" font-size="6.00" font-family="'Liberation Sans', sans-serif" fill="#4a4a4a">&#945;</text>
<text transform="translate(404.11,240.66) scale(1.030,1)" font-size="6.00" font-family="'Liberation Sans', sans-serif" font-weight="normal" fill="#1c1c1c">I</text>
<text class="nb" x="422.41" y="239.12" font-size="5.40" font-family="'Liberation Sans', sans-serif" fill="#4a4a4a">&#945;</text>
<text transform="translate(413.73,245.28) scale(1.030,1)" font-size="5.70" font-family="'Liberation Sans', sans-serif" font-weight="normal" fill="#1c1c1c">(G+T+I)</text>
<text class="nb" x="444.21" y="239.12" font-size="5.40" font-family="'Liberation Sans', sans-serif" fill="#4a4a4a">&#945;</text>
<text transform="translate(438.05,245.28) scale(1.030,1)" font-size="5.70" font-family="'Liberation Sans', sans-serif" font-weight="normal" fill="#1c1c1c">(G+T)</text>
<text class="nb" x="464.71" y="239.12" font-size="5.40" font-family="'Liberation Sans', sans-serif" fill="#4a4a4a">&#945;</text>
<text transform="translate(459.55,245.28) scale(1.030,1)" font-size="5.70" font-family="'Liberation Sans', sans-serif" font-weight="normal" fill="#1c1c1c">(G+I)</text>
<text class="nb" x="484.01" y="239.12" font-size="5.40" font-family="'Liberation Sans', sans-serif" fill="#4a4a4a">&#945;</text>
<text transform="translate(479.32,245.28) scale(1.030,1)" font-size="5.70" font-family="'Liberation Sans', sans-serif" font-weight="normal" fill="#1c1c1c">(T+I)</text>
<path d="M323.5,186.5 V154.7 H341.5" fill="none" stroke="#484848" stroke-width="0.9"/>
<ellipse cx="332.60" cy="152.40" rx="1.05" ry="0.85" fill="#333"/>
<path d="M345.4,154.7 H425.5 V171.25" fill="none" stroke="#484848" stroke-width="0.9"/>
<text transform="translate(379.84,152.93) scale(1.013,1)" font-size="6.55" font-family="'Liberation Sans', sans-serif" font-weight="normal" fill="#1c1c1c">ns</text>
<text transform="translate(-0.18,277.90) scale(0.891,1)" font-size="18.84" font-family="'Liberation Sans', sans-serif" font-weight="bold" fill="#000">E</text>
<line x1="23.75" y1="281.75" x2="23.75" y2="347.70" stroke="#3a3a3a" stroke-width="1.1"/>
<line x1="22.15" y1="348.00" x2="23.75" y2="348.00" stroke="#333" stroke-width="0.9"/>
<text transform="translate(19.10,349.76) scale(1.021,1)" font-size="4.90" font-family="'Liberation Sans', sans-serif" font-weight="bold" fill="#222" style="stroke-width:0.15px">0</text>
<line x1="22.15" y1="331.25" x2="23.75" y2="331.25" stroke="#333" stroke-width="0.9"/>
<text transform="translate(13.76,333.01) scale(0.988,1)" font-size="4.90" font-family="'Liberation Sans', sans-serif" font-weight="bold" fill="#222" style="stroke-width:0.15px">200</text>
<line x1="22.15" y1="315.00" x2="23.75" y2="315.00" stroke="#333" stroke-width="0.9"/>
<text transform="translate(13.66,316.76) scale(1.000,1)" font-size="4.90" font-family="'Liberation Sans', sans-serif" font-weight="bold" fill="#222" style="stroke-width:0.15px">400</text>
<line x1="22.15" y1="298.25" x2="23.75" y2="298.25" stroke="#333" stroke-width="0.9"/>
<text transform="translate(13.71,300.01) scale(0.994,1)" font-size="4.90" font-family="'Liberation Sans', sans-serif" font-weight="bold" fill="#222" style="stroke-width:0.15px">600</text>
<line x1="22.15" y1="281.75" x2="23.75" y2="281.75" stroke="#333" stroke-width="0.9"/>
<text transform="translate(13.71,283.51) scale(0.994,1)" font-size="4.90" font-family="'Liberation Sans', sans-serif" font-weight="bold" fill="#222" style="stroke-width:0.15px">800</text>
<text transform="translate(6.60,336.57) rotate(-90) scale(1.116,1)" font-size="6.58" font-family="'Liberation Sans', sans-serif" font-weight="normal" fill="#1c1c1c" style="stroke-width:0.1px">CD62L (MFI)</text>
<line x1="33.88" y1="347.70" x2="33.88" y2="349.70" stroke="#3a3a3a" stroke-width="0.9"/>
<line x1="33.88" y1="327.50" x2="33.88" y2="326.25" stroke="#8a8a8a" stroke-width="0.6"/>
<line x1="30.68" y1="326.50" x2="37.08" y2="326.50" stroke="#262626" stroke-width="1.2"/>
<rect x="27.00" y="327.50" width="13.75" height="20.20" fill="#fff"/>
<path d="M27.55,347.70 V328.05 H40.20 V347.70" fill="none" stroke="#2b2b2b" stroke-width="1.1"/>
<line x1="54.12" y1="347.70" x2="54.12" y2="349.70" stroke="#3a3a3a" stroke-width="0.9"/>
<line x1="54.12" y1="328.25" x2="54.12" y2="327.00" stroke="#8a8a8a" stroke-width="0.6"/>
<line x1="50.92" y1="327.50" x2="57.33" y2="327.50" stroke="#262626" stroke-width="1.2"/>
<rect x="47.00" y="328.25" width="14.25" height="19.45" fill="#fff"/>
<path d="M47.55,347.70 V328.80 H60.70 V347.70" fill="none" stroke="#2b2b2b" stroke-width="1.1"/>
<line x1="74.62" y1="347.70" x2="74.62" y2="349.70" stroke="#3a3a3a" stroke-width="0.9"/>
<line x1="74.62" y1="324.25" x2="74.62" y2="321.75" stroke="#8a8a8a" stroke-width="0.6"/>
<line x1="71.42" y1="321.50" x2="77.83" y2="321.50" stroke="#262626" stroke-width="1.2"/>
<rect x="67.50" y="324.25" width="14.25" height="23.45" fill="#fff"/>
<path d="M68.05,347.70 V324.80 H81.20 V347.70" fill="none" stroke="#2b2b2b" stroke-width="1.1"/>
<line x1="95.40" y1="347.70" x2="95.40" y2="349.70" stroke="#3a3a3a" stroke-width="0.9"/>
<line x1="95.40" y1="332.30" x2="95.40" y2="328.10" stroke="#8a8a8a" stroke-width="0.6"/>
<line x1="92.20" y1="328.50" x2="98.60" y2="328.50" stroke="#262626" stroke-width="1.2"/>
<rect x="88.50" y="332.30" width="13.80" height="15.40" fill="#000"/>
<path d="M89.05,347.70 V332.85 H101.75 V347.70" fill="none" stroke="#2b2b2b" stroke-width="1.1"/>
<line x1="115.75" y1="347.70" x2="115.75" y2="349.70" stroke="#3a3a3a" stroke-width="0.9"/>
<line x1="115.75" y1="309.80" x2="115.75" y2="305.10" stroke="#8a8a8a" stroke-width="0.6"/>
<line x1="112.55" y1="305.50" x2="118.95" y2="305.50" stroke="#262626" stroke-width="1.2"/>
<rect x="109.00" y="309.80" width="13.50" height="37.90" fill="#a6a6a6"/>
<path d="M109.55,347.70 V310.35 H121.95 V347.70" fill="none" stroke="#2b2b2b" stroke-width="1.1"/>
<line x1="136.25" y1="347.70" x2="136.25" y2="349.70" stroke="#3a3a3a" stroke-width="0.9"/>
<line x1="136.25" y1="328.40" x2="136.25" y2="322.90" stroke="#8a8a8a" stroke-width="0.6"/>
<line x1="133.05" y1="322.50" x2="139.45" y2="322.50" stroke="#262626" stroke-width="1.2"/>
<rect x="129.40" y="328.40" width="13.70" height="19.30" fill="#a6a6a6"/>
<path d="M129.95,347.70 V328.95 H142.55 V347.70" fill="none" stroke="#2b2b2b" stroke-width="1.1"/>
<line x1="156.60" y1="347.70" x2="156.60" y2="349.70" stroke="#3a3a3a" stroke-width="0.9"/>
<line x1="156.60" y1="335.70" x2="156.60" y2="334.70" stroke="#8a8a8a" stroke-width="0.6"/>
<line x1="153.40" y1="334.50" x2="159.80" y2="334.50" stroke="#262626" stroke-width="1.2"/>
<rect x="149.70" y="335.70" width="13.80" height="12.00" fill="#a6a6a6"/>
<path d="M150.25,347.70 V336.25 H162.95 V347.70" fill="none" stroke="#2b2b2b" stroke-width="1.1"/>
<line x1="177.40" y1="347.70" x2="177.40" y2="349.70" stroke="#3a3a3a" stroke-width="0.9"/>
<line x1="177.40" y1="312.10" x2="177.40" y2="308.40" stroke="#8a8a8a" stroke-width="0.6"/>
<line x1="174.20" y1="308.50" x2="180.60" y2="308.50" stroke="#262626" stroke-width="1.2"/>
<rect x="170.40" y="312.10" width="14.00" height="35.60" fill="#a6a6a6"/>
<path d="M170.95,347.70 V312.65 H183.85 V347.70" fill="none" stroke="#2b2b2b" stroke-width="1.1"/>
<line x1="197.75" y1="347.70" x2="197.75" y2="349.70" stroke="#3a3a3a" stroke-width="0.9"/>
<line x1="197.75" y1="303.40" x2="197.75" y2="299.10" stroke="#8a8a8a" stroke-width="0.6"/>
<line x1="194.55" y1="299.50" x2="200.95" y2="299.50" stroke="#262626" stroke-width="1.2"/>
<rect x="190.80" y="303.40" width="13.90" height="44.30" fill="#a6a6a6"/>
<path d="M191.35,347.70 V303.95 H204.15 V347.70" fill="none" stroke="#2b2b2b" stroke-width="1.1"/>
<line x1="218.20" y1="347.70" x2="218.20" y2="349.70" stroke="#3a3a3a" stroke-width="0.9"/>
<line x1="218.20" y1="323.30" x2="218.20" y2="317.50" stroke="#8a8a8a" stroke-width="0.6"/>
<line x1="215.00" y1="317.50" x2="221.40" y2="317.50" stroke="#262626" stroke-width="1.2"/>
<rect x="211.30" y="323.30" width="13.80" height="24.40" fill="#a6a6a6"/>
<path d="M211.85,347.70 V323.85 H224.55 V347.70" fill="none" stroke="#2b2b2b" stroke-width="1.1"/>
<line x1="238.70" y1="347.70" x2="238.70" y2="349.70" stroke="#3a3a3a" stroke-width="0.9"/>
<line x1="238.70" y1="330.40" x2="238.70" y2="324.60" stroke="#8a8a8a" stroke-width="0.6"/>
<line x1="235.50" y1="324.50" x2="241.90" y2="324.50" stroke="#262626" stroke-width="1.2"/>
<rect x="231.80" y="330.40" width="13.80" height="17.30" fill="#a6a6a6"/>
<path d="M232.35,347.70 V330.95 H245.05 V347.70" fill="none" stroke="#2b2b2b" stroke-width="1.1"/>
<line x1="23.75" y1="347.70" x2="248.40" y2="347.70" stroke="#3a3a3a" stroke-width="1.1"/>
<text transform="translate(27.86,358.35) scale(1.030,1)" font-size="6.53" font-family="'Liberation Sans', sans-serif" font-weight="normal" fill="#1c1c1c" style="stroke-width:0.12px">Med</text>
<text transform="translate(47.08,358.41) scale(1.030,1)" font-size="6.70" font-family="'Liberation Sans', sans-serif" font-weight="normal" fill="#1c1c1c" style="stroke-width:0.12px">IL-2</text>
<text transform="translate(64.45,358.39) scale(1.030,1)" font-size="6.64" font-family="'Liberation Sans', sans-serif" font-weight="normal" fill="#1c1c1c" style="stroke-width:0.12px">NK sup</text>
<path d="M89.2,352.0 V360.5 H244.6 V352.0" fill="none" stroke="#6a6a6a" stroke-width="0.8"/>
<text transform="translate(108.07,358.53) scale(1.030,1)" font-size="6.46" font-family="'Liberation Sans', sans-serif" font-weight="normal" fill="#1c1c1c" style="stroke-width:0.12px">Sup from NK cells stimulated with IL-2</text>
<rect x="95.80" y="368.00" width="1.2" height="1.0" fill="#555"/>
<text class="nb" x="111.77" y="370.66" font-size="6.00" font-family="'Liberation Sans', sans-serif" fill="#4a4a4a">&#945;</text>
<text transform="translate(115.66,370.66) scale(1.030,1)" font-size="6.00" font-family="'Liberation Sans', sans-serif" font-weight="normal" fill="#1c1c1c">G</text>
<text class="nb" x="133.22" y="370.66" font-size="6.00" font-family="'Liberation Sans', sans-serif" fill="#4a4a4a">&#945;</text>
<text transform="translate(137.30,370.66) scale(1.030,1)" font-size="6.00" font-family="'Liberation Sans', sans-serif" font-weight="normal" fill="#1c1c1c">T</text>
<text class="nb" x="154.47" y="370.66" font-size="6.00" font-family="'Liberation Sans', sans-serif" fill="#4a4a4a">&#945;</text>
<text transform="translate(158.11,370.66) scale(1.030,1)" font-size="6.00" font-family="'Liberation Sans', sans-serif" font-weight="normal" fill="#1c1c1c">I</text>
<text class="nb" x="175.21" y="370.42" font-size="5.40" font-family="'Liberation Sans', sans-serif" fill="#4a4a4a">&#945;</text>
<text transform="translate(166.53,376.78) scale(1.030,1)" font-size="5.70" font-family="'Liberation Sans', sans-serif" font-weight="normal" fill="#1c1c1c">(G+T+I)</text>
<text class="nb" x="197.31" y="370.42" font-size="5.40" font-family="'Liberation Sans', sans-serif" fill="#4a4a4a">&#945;</text>
<text transform="translate(191.15,376.78) scale(1.030,1)" font-size="5.70" font-family="'Liberation Sans', sans-serif" font-weight="normal" fill="#1c1c1c">(G+T)</text>
<text class="nb" x="218.91" y="370.42" font-size="5.40" font-family="'Liberation Sans', sans-serif" fill="#4a4a4a">&#945;</text>
<text transform="translate(213.75,376.78) scale(1.030,1)" font-size="5.70" font-family="'Liberation Sans', sans-serif" font-weight="normal" fill="#1c1c1c">(G+I)</text>
<text class="nb" x="238.41" y="370.42" font-size="5.40" font-family="'Liberation Sans', sans-serif" fill="#4a4a4a">&#945;</text>
<text transform="translate(233.72,376.78) scale(1.030,1)" font-size="5.70" font-family="'Liberation Sans', sans-serif" font-weight="normal" fill="#1c1c1c">(T+I)</text>
<path d="M92.6,322.4 V292.6 H198.4" fill="none" stroke="#484848" stroke-width="0.9"/>
<ellipse cx="140.10" cy="290.30" rx="1.05" ry="0.85" fill="#333"/>
<ellipse cx="143.15" cy="290.30" rx="1.05" ry="0.85" fill="#333"/>
<ellipse cx="146.20" cy="290.30" rx="1.05" ry="0.85" fill="#333"/>
<path d="M97.5,322.4 V301.8 H115.8" fill="none" stroke="#484848" stroke-width="0.9"/>
<ellipse cx="106.30" cy="299.50" rx="1.05" ry="0.85" fill="#333"/>
<text transform="translate(266.64,277.90) scale(0.955,1)" font-size="18.84" font-family="'Liberation Sans', sans-serif" font-weight="bold" fill="#000">F</text>
<line x1="292.00" y1="280.75" x2="292.00" y2="347.20" stroke="#3a3a3a" stroke-width="1.1"/>
<line x1="290.40" y1="347.00" x2="292.00" y2="347.00" stroke="#333" stroke-width="0.9"/>
<text transform="translate(287.35,348.76) scale(1.021,1)" font-size="4.90" font-family="'Liberation Sans', sans-serif" font-weight="bold" fill="#222" style="stroke-width:0.15px">0</text>
<line x1="290.40" y1="325.00" x2="292.00" y2="325.00" stroke="#333" stroke-width="0.9"/>
<text transform="translate(282.01,326.76) scale(0.987,1)" font-size="4.90" font-family="'Liberation Sans', sans-serif" font-weight="bold" fill="#222" style="stroke-width:0.15px">100</text>
<line x1="290.40" y1="303.00" x2="292.00" y2="303.00" stroke="#333" stroke-width="0.9"/>
<text transform="translate(282.01,304.76) scale(0.988,1)" font-size="4.90" font-family="'Liberation Sans', sans-serif" font-weight="bold" fill="#222" style="stroke-width:0.15px">200</text>
<line x1="290.40" y1="280.75" x2="292.00" y2="280.75" stroke="#333" stroke-width="0.9"/>
<text transform="translate(282.01,282.51) scale(0.988,1)" font-size="4.90" font-family="'Liberation Sans', sans-serif" font-weight="bold" fill="#222" style="stroke-width:0.15px">300</text>
<text transform="translate(275.10,336.37) rotate(-90) scale(1.070,1)" font-size="6.99" font-family="'Liberation Sans', sans-serif" font-weight="normal" fill="#1c1c1c" style="stroke-width:0.1px">CD62L (MFI)</text>
<line x1="302.62" y1="347.20" x2="302.62" y2="349.20" stroke="#3a3a3a" stroke-width="0.9"/>
<line x1="302.62" y1="305.00" x2="302.62" y2="299.25" stroke="#8a8a8a" stroke-width="0.6"/>
<line x1="299.43" y1="299.50" x2="305.82" y2="299.50" stroke="#262626" stroke-width="1.2"/>
<rect x="295.75" y="305.00" width="13.75" height="42.20" fill="#fff"/>
<path d="M296.30,347.20 V305.55 H308.95 V347.20" fill="none" stroke="#2b2b2b" stroke-width="1.1"/>
<line x1="322.75" y1="347.20" x2="322.75" y2="349.20" stroke="#3a3a3a" stroke-width="0.9"/>
<line x1="322.75" y1="321.75" x2="322.75" y2="318.25" stroke="#8a8a8a" stroke-width="0.6"/>
<line x1="319.55" y1="318.50" x2="325.95" y2="318.50" stroke="#262626" stroke-width="1.2"/>
<rect x="315.50" y="321.75" width="14.50" height="25.45" fill="#fff"/>
<path d="M316.05,347.20 V322.30 H329.45 V347.20" fill="none" stroke="#2b2b2b" stroke-width="1.1"/>
<line x1="343.38" y1="347.20" x2="343.38" y2="349.20" stroke="#3a3a3a" stroke-width="0.9"/>
<line x1="343.38" y1="297.50" x2="343.38" y2="289.50" stroke="#8a8a8a" stroke-width="0.6"/>
<line x1="340.18" y1="289.50" x2="346.57" y2="289.50" stroke="#262626" stroke-width="1.2"/>
<rect x="336.25" y="297.50" width="14.25" height="49.70" fill="#fff"/>
<path d="M336.80,347.20 V298.05 H349.95 V347.20" fill="none" stroke="#2b2b2b" stroke-width="1.1"/>
<line x1="364.00" y1="347.20" x2="364.00" y2="349.20" stroke="#3a3a3a" stroke-width="0.9"/>
<line x1="364.00" y1="339.00" x2="364.00" y2="337.40" stroke="#8a8a8a" stroke-width="0.6"/>
<line x1="360.80" y1="337.50" x2="367.20" y2="337.50" stroke="#262626" stroke-width="1.2"/>
<rect x="357.00" y="339.00" width="14.00" height="8.20" fill="#000"/>
<path d="M357.55,347.20 V339.55 H370.45 V347.20" fill="none" stroke="#2b2b2b" stroke-width="1.1"/>
<line x1="384.40" y1="347.20" x2="384.40" y2="349.20" stroke="#3a3a3a" stroke-width="0.9"/>
<line x1="384.40" y1="333.50" x2="384.40" y2="329.50" stroke="#8a8a8a" stroke-width="0.6"/>
<line x1="381.20" y1="329.50" x2="387.60" y2="329.50" stroke="#262626" stroke-width="1.2"/>
<rect x="377.30" y="333.50" width="14.20" height="13.70" fill="#a6a6a6"/>
<path d="M377.85,347.20 V334.05 H390.95 V347.20" fill="none" stroke="#2b2b2b" stroke-width="1.1"/>
<line x1="405.00" y1="347.20" x2="405.00" y2="349.20" stroke="#3a3a3a" stroke-width="0.9"/>
<line x1="405.00" y1="328.30" x2="405.00" y2="326.40" stroke="#8a8a8a" stroke-width="0.6"/>
<line x1="401.80" y1="326.50" x2="408.20" y2="326.50" stroke="#262626" stroke-width="1.2"/>
<rect x="398.10" y="328.30" width="13.80" height="18.90" fill="#a6a6a6"/>
<path d="M398.65,347.20 V328.85 H411.35 V347.20" fill="none" stroke="#2b2b2b" stroke-width="1.1"/>
<line x1="425.25" y1="347.20" x2="425.25" y2="349.20" stroke="#3a3a3a" stroke-width="0.9"/>
<line x1="425.25" y1="338.50" x2="425.25" y2="337.60" stroke="#8a8a8a" stroke-width="0.6"/>
<line x1="422.05" y1="337.50" x2="428.45" y2="337.50" stroke="#262626" stroke-width="1.2"/>
<rect x="418.30" y="338.50" width="13.90" height="8.70" fill="#a6a6a6"/>
<path d="M418.85,347.20 V339.05 H431.65 V347.20" fill="none" stroke="#2b2b2b" stroke-width="1.1"/>
<line x1="446.20" y1="347.20" x2="446.20" y2="349.20" stroke="#3a3a3a" stroke-width="0.9"/>
<line x1="446.20" y1="301.30" x2="446.20" y2="298.70" stroke="#8a8a8a" stroke-width="0.6"/>
<line x1="443.00" y1="298.50" x2="449.40" y2="298.50" stroke="#262626" stroke-width="1.2"/>
<rect x="439.40" y="301.30" width="13.60" height="45.90" fill="#a6a6a6"/>
<path d="M439.95,347.20 V301.85 H452.45 V347.20" fill="none" stroke="#2b2b2b" stroke-width="1.1"/>
<line x1="466.50" y1="347.20" x2="466.50" y2="349.20" stroke="#3a3a3a" stroke-width="0.9"/>
<line x1="466.50" y1="313.60" x2="466.50" y2="306.70" stroke="#8a8a8a" stroke-width="0.6"/>
<line x1="463.30" y1="306.50" x2="469.70" y2="306.50" stroke="#262626" stroke-width="1.2"/>
<rect x="459.50" y="313.60" width="14.00" height="33.60" fill="#a6a6a6"/>
<path d="M460.05,347.20 V314.15 H472.95 V347.20" fill="none" stroke="#2b2b2b" stroke-width="1.1"/>
<line x1="487.20" y1="347.20" x2="487.20" y2="349.20" stroke="#3a3a3a" stroke-width="0.9"/>
<line x1="487.20" y1="334.30" x2="487.20" y2="331.00" stroke="#8a8a8a" stroke-width="0.6"/>
<line x1="484.00" y1="331.50" x2="490.40" y2="331.50" stroke="#262626" stroke-width="1.2"/>
<rect x="480.40" y="334.30" width="13.60" height="12.90" fill="#a6a6a6"/>
<path d="M480.95,347.20 V334.85 H493.45 V347.20" fill="none" stroke="#2b2b2b" stroke-width="1.1"/>
<line x1="507.50" y1="347.20" x2="507.50" y2="349.20" stroke="#3a3a3a" stroke-width="0.9"/>
<line x1="507.50" y1="331.90" x2="507.50" y2="329.30" stroke="#8a8a8a" stroke-width="0.6"/>
<line x1="504.30" y1="329.50" x2="510.70" y2="329.50" stroke="#262626" stroke-width="1.2"/>
<rect x="500.50" y="331.90" width="14.00" height="15.30" fill="#a6a6a6"/>
<path d="M501.05,347.20 V332.45 H513.95 V347.20" fill="none" stroke="#2b2b2b" stroke-width="1.1"/>
<line x1="292.00" y1="347.20" x2="518.00" y2="347.20" stroke="#3a3a3a" stroke-width="1.1"/>
<text transform="translate(295.79,357.63) scale(1.030,1)" font-size="6.20" font-family="'Liberation Sans', sans-serif" font-weight="normal" fill="#1c1c1c" style="stroke-width:0.12px">Med</text>
<text transform="translate(313.49,357.75) scale(1.030,1)" font-size="6.53" font-family="'Liberation Sans', sans-serif" font-weight="normal" fill="#1c1c1c" style="stroke-width:0.12px">IL-12</text>
<text transform="translate(319.16,366.04) scale(1.030,1)" font-size="6.50" font-family="'Liberation Sans', sans-serif" font-weight="normal" fill="#1c1c1c">+</text>
<text transform="translate(313.49,373.25) scale(1.030,1)" font-size="6.53" font-family="'Liberation Sans', sans-serif" font-weight="normal" fill="#1c1c1c" style="stroke-width:0.12px">IL-18</text>
<text transform="translate(333.08,357.69) scale(1.030,1)" font-size="6.36" font-family="'Liberation Sans', sans-serif" font-weight="normal" fill="#1c1c1c" style="stroke-width:0.12px">NK sup</text>
<path d="M357.7,351.5 V360.2 H513.2 V351.5" fill="none" stroke="#6a6a6a" stroke-width="0.8"/>
<text transform="translate(368.46,358.65) scale(1.030,1)" font-size="6.52" font-family="'Liberation Sans', sans-serif" font-weight="normal" fill="#1c1c1c" style="stroke-width:0.12px">Sup from NK cells stimulated with IL-12+IL-18</text>
<rect x="364.30" y="367.40" width="1.2" height="1.0" fill="#555"/>
<text class="nb" x="380.27" y="370.06" font-size="6.00" font-family="'Liberation Sans', sans-serif" fill="#4a4a4a">&#945;</text>
<text transform="translate(384.16,370.06) scale(1.030,1)" font-size="6.00" font-family="'Liberation Sans', sans-serif" font-weight="normal" fill="#1c1c1c">G</text>
<text class="nb" x="402.92" y="370.06" font-size="6.00" font-family="'Liberation Sans', sans-serif" fill="#4a4a4a">&#945;</text>
<text transform="translate(407.00,370.06) scale(1.030,1)" font-size="6.00" font-family="'Liberation Sans', sans-serif" font-weight="normal" fill="#1c1c1c">T</text>
<text class="nb" x="423.17" y="370.06" font-size="6.00" font-family="'Liberation Sans', sans-serif" fill="#4a4a4a">&#945;</text>
<text transform="translate(426.81,370.06) scale(1.030,1)" font-size="6.00" font-family="'Liberation Sans', sans-serif" font-weight="normal" fill="#1c1c1c">I</text>
<text class="nb" x="444.41" y="369.72" font-size="5.40" font-family="'Liberation Sans', sans-serif" fill="#4a4a4a">&#945;</text>
<text transform="translate(435.73,376.08) scale(1.030,1)" font-size="5.70" font-family="'Liberation Sans', sans-serif" font-weight="normal" fill="#1c1c1c">(G+T+I)</text>
<text class="nb" x="466.21" y="369.72" font-size="5.40" font-family="'Liberation Sans', sans-serif" fill="#4a4a4a">&#945;</text>
<text transform="translate(460.05,376.08) scale(1.030,1)" font-size="5.70" font-family="'Liberation Sans', sans-serif" font-weight="normal" fill="#1c1c1c">(G+T)</text>
<text class="nb" x="487.21" y="369.72" font-size="5.40" font-family="'Liberation Sans', sans-serif" fill="#4a4a4a">&#945;</text>
<text transform="translate(482.05,376.08) scale(1.030,1)" font-size="5.70" font-family="'Liberation Sans', sans-serif" font-weight="normal" fill="#1c1c1c">(G+I)</text>
<text class="nb" x="506.91" y="369.72" font-size="5.40" font-family="'Liberation Sans', sans-serif" fill="#4a4a4a">&#945;</text>
<text transform="translate(502.22,376.08) scale(1.030,1)" font-size="5.70" font-family="'Liberation Sans', sans-serif" font-weight="normal" fill="#1c1c1c">(T+I)</text>
<path d="M304.5,285.6 H360.3 V326" fill="none" stroke="#484848" stroke-width="0.9"/>
<ellipse cx="326.60" cy="283.20" rx="1.05" ry="0.85" fill="#333"/>
<ellipse cx="329.65" cy="283.20" rx="1.05" ry="0.85" fill="#333"/>
<ellipse cx="332.70" cy="283.20" rx="1.05" ry="0.85" fill="#333"/>
<path d="M363.6,326 V285.6 H467" fill="none" stroke="#484848" stroke-width="0.9"/>
<ellipse cx="410.58" cy="283.20" rx="1.05" ry="0.85" fill="#333"/>
<ellipse cx="413.62" cy="283.20" rx="1.05" ry="0.85" fill="#333"/>
<path d="M367.0,325.2 V295.8 H445.9" fill="none" stroke="#484848" stroke-width="0.9"/>
<ellipse cx="402.70" cy="293.40" rx="1.05" ry="0.85" fill="#333"/>
<ellipse cx="405.75" cy="293.40" rx="1.05" ry="0.85" fill="#333"/>
<ellipse cx="408.80" cy="293.40" rx="1.05" ry="0.85" fill="#333"/>
<text transform="translate(0.30,401.71) scale(0.941,1)" font-size="18.59" font-family="'Liberation Sans', sans-serif" font-weight="bold" fill="#000">G</text>
<line x1="23.50" y1="412.60" x2="23.50" y2="478.70" stroke="#3a3a3a" stroke-width="1.1"/>
<line x1="21.90" y1="478.90" x2="23.50" y2="478.90" stroke="#333" stroke-width="0.9"/>
<text transform="translate(18.85,480.66) scale(1.021,1)" font-size="4.90" font-family="'Liberation Sans', sans-serif" font-weight="bold" fill="#222" style="stroke-width:0.15px">0</text>
<line x1="21.90" y1="462.10" x2="23.50" y2="462.10" stroke="#333" stroke-width="0.9"/>
<text transform="translate(16.26,463.86) scale(0.981,1)" font-size="4.90" font-family="'Liberation Sans', sans-serif" font-weight="bold" fill="#222" style="stroke-width:0.15px">30</text>
<line x1="21.90" y1="445.80" x2="23.50" y2="445.80" stroke="#333" stroke-width="0.9"/>
<text transform="translate(16.21,447.56) scale(0.990,1)" font-size="4.90" font-family="'Liberation Sans', sans-serif" font-weight="bold" fill="#222" style="stroke-width:0.15px">60</text>
<line x1="21.90" y1="429.20" x2="23.50" y2="429.20" stroke="#333" stroke-width="0.9"/>
<text transform="translate(16.21,430.96) scale(0.990,1)" font-size="4.90" font-family="'Liberation Sans', sans-serif" font-weight="bold" fill="#222" style="stroke-width:0.15px">90</text>
<line x1="21.90" y1="412.60" x2="23.50" y2="412.60" stroke="#333" stroke-width="0.9"/>
<text transform="translate(13.51,414.36) scale(0.987,1)" font-size="4.90" font-family="'Liberation Sans', sans-serif" font-weight="bold" fill="#222" style="stroke-width:0.15px">120</text>
<text transform="translate(6.10,483.29) rotate(-90) scale(1.114,1)" font-size="6.58" font-family="'Liberation Sans', sans-serif" font-weight="normal" fill="#1c1c1c" style="stroke-width:0.1px">% Phagocytosing PMNs</text>
<line x1="33.80" y1="478.70" x2="33.80" y2="480.70" stroke="#3a3a3a" stroke-width="0.9"/>
<rect x="26.80" y="443.70" width="14.00" height="35.00" fill="#fff"/>
<path d="M27.35,478.70 V444.25 H40.25 V478.70" fill="none" stroke="#2b2b2b" stroke-width="1.1"/>
<line x1="54.20" y1="478.70" x2="54.20" y2="480.70" stroke="#3a3a3a" stroke-width="0.9"/>
<rect x="47.20" y="445.80" width="14.00" height="32.90" fill="#fff"/>
<path d="M47.75,478.70 V446.35 H60.65 V478.70" fill="none" stroke="#2b2b2b" stroke-width="1.1"/>
<line x1="74.60" y1="478.70" x2="74.60" y2="480.70" stroke="#3a3a3a" stroke-width="0.9"/>
<rect x="67.60" y="445.50" width="14.00" height="33.20" fill="#fff"/>
<path d="M68.15,478.70 V446.05 H81.05 V478.70" fill="none" stroke="#2b2b2b" stroke-width="1.1"/>
<line x1="94.95" y1="478.70" x2="94.95" y2="480.70" stroke="#3a3a3a" stroke-width="0.9"/>
<rect x="87.90" y="424.10" width="14.10" height="54.60" fill="#000"/>
<path d="M88.45,478.70 V424.65 H101.45 V478.70" fill="none" stroke="#2b2b2b" stroke-width="1.1"/>
<line x1="115.95" y1="478.70" x2="115.95" y2="480.70" stroke="#3a3a3a" stroke-width="0.9"/>
<rect x="108.80" y="425.50" width="14.30" height="53.20" fill="#a6a6a6"/>
<path d="M109.35,478.70 V426.05 H122.55 V478.70" fill="none" stroke="#2b2b2b" stroke-width="1.1"/>
<line x1="136.15" y1="478.70" x2="136.15" y2="480.70" stroke="#3a3a3a" stroke-width="0.9"/>
<rect x="129.20" y="425.50" width="13.90" height="53.20" fill="#a6a6a6"/>
<path d="M129.75,478.70 V426.05 H142.55 V478.70" fill="none" stroke="#2b2b2b" stroke-width="1.1"/>
<line x1="156.75" y1="478.70" x2="156.75" y2="480.70" stroke="#3a3a3a" stroke-width="0.9"/>
<rect x="149.80" y="425.20" width="13.90" height="53.50" fill="#a6a6a6"/>
<path d="M150.35,478.70 V425.75 H163.15 V478.70" fill="none" stroke="#2b2b2b" stroke-width="1.1"/>
<line x1="177.10" y1="478.70" x2="177.10" y2="480.70" stroke="#3a3a3a" stroke-width="0.9"/>
<rect x="170.20" y="430.20" width="13.80" height="48.50" fill="#a6a6a6"/>
<path d="M170.75,478.70 V430.75 H183.45 V478.70" fill="none" stroke="#2b2b2b" stroke-width="1.1"/>
<line x1="197.70" y1="478.70" x2="197.70" y2="480.70" stroke="#3a3a3a" stroke-width="0.9"/>
<rect x="190.80" y="425.50" width="13.80" height="53.20" fill="#a6a6a6"/>
<path d="M191.35,478.70 V426.05 H204.05 V478.70" fill="none" stroke="#2b2b2b" stroke-width="1.1"/>
<line x1="218.30" y1="478.70" x2="218.30" y2="480.70" stroke="#3a3a3a" stroke-width="0.9"/>
<rect x="211.40" y="430.20" width="13.80" height="48.50" fill="#a6a6a6"/>
<path d="M211.95,478.70 V430.75 H224.65 V478.70" fill="none" stroke="#2b2b2b" stroke-width="1.1"/>
<line x1="238.60" y1="478.70" x2="238.60" y2="480.70" stroke="#3a3a3a" stroke-width="0.9"/>
<rect x="231.70" y="427.10" width="13.80" height="51.60" fill="#a6a6a6"/>
<path d="M232.25,478.70 V427.65 H244.95 V478.70" fill="none" stroke="#2b2b2b" stroke-width="1.1"/>
<line x1="23.50" y1="478.70" x2="248.00" y2="478.70" stroke="#3a3a3a" stroke-width="1.1"/>
<text transform="translate(26.56,489.45) scale(1.030,1)" font-size="6.53" font-family="'Liberation Sans', sans-serif" font-weight="normal" fill="#1c1c1c" style="stroke-width:0.12px">Med</text>
<text transform="translate(45.62,489.33) scale(1.030,1)" font-size="6.21" font-family="'Liberation Sans', sans-serif" font-weight="normal" fill="#1c1c1c" style="stroke-width:0.12px">IL-2</text>
<text transform="translate(62.97,489.43) scale(1.030,1)" font-size="6.48" font-family="'Liberation Sans', sans-serif" font-weight="normal" fill="#1c1c1c" style="stroke-width:0.12px">NK sup</text>
<path d="M89.2,484.0 V492.0 H244.0 V484.0" fill="none" stroke="#6a6a6a" stroke-width="0.8"/>
<text transform="translate(105.47,489.44) scale(1.030,1)" font-size="6.50" font-family="'Liberation Sans', sans-serif" font-weight="normal" fill="#1c1c1c" style="stroke-width:0.12px">Sup from NK cells stimulated with IL-2</text>
<rect x="93.70" y="498.50" width="1.2" height="1.0" fill="#555"/>
<text class="nb" x="109.47" y="501.66" font-size="6.00" font-family="'Liberation Sans', sans-serif" fill="#4a4a4a">&#945;</text>
<text transform="translate(113.36,501.66) scale(1.030,1)" font-size="6.00" font-family="'Liberation Sans', sans-serif" font-weight="normal" fill="#1c1c1c">G</text>
<text class="nb" x="131.52" y="501.66" font-size="6.00" font-family="'Liberation Sans', sans-serif" fill="#4a4a4a">&#945;</text>
<text transform="translate(135.60,501.66) scale(1.030,1)" font-size="6.00" font-family="'Liberation Sans', sans-serif" font-weight="normal" fill="#1c1c1c">T</text>
<text class="nb" x="152.97" y="501.66" font-size="6.00" font-family="'Liberation Sans', sans-serif" fill="#4a4a4a">&#945;</text>
<text transform="translate(156.61,501.66) scale(1.030,1)" font-size="6.00" font-family="'Liberation Sans', sans-serif" font-weight="normal" fill="#1c1c1c">I</text>
<text class="nb" x="173.41" y="500.92" font-size="5.40" font-family="'Liberation Sans', sans-serif" fill="#4a4a4a">&#945;</text>
<text transform="translate(164.73,506.78) scale(1.030,1)" font-size="5.70" font-family="'Liberation Sans', sans-serif" font-weight="normal" fill="#1c1c1c">(G+T+I)</text>
<text class="nb" x="195.01" y="500.92" font-size="5.40" font-family="'Liberation Sans', sans-serif" fill="#4a4a4a">&#945;</text>
<text transform="translate(188.85,506.78) scale(1.030,1)" font-size="5.70" font-family="'Liberation Sans', sans-serif" font-weight="normal" fill="#1c1c1c">(G+T)</text>
<text class="nb" x="216.21" y="500.92" font-size="5.40" font-family="'Liberation Sans', sans-serif" fill="#4a4a4a">&#945;</text>
<text transform="translate(211.05,506.78) scale(1.030,1)" font-size="5.70" font-family="'Liberation Sans', sans-serif" font-weight="normal" fill="#1c1c1c">(G+I)</text>
<text class="nb" x="236.91" y="500.92" font-size="5.40" font-family="'Liberation Sans', sans-serif" fill="#4a4a4a">&#945;</text>
<text transform="translate(232.22,506.78) scale(1.030,1)" font-size="5.70" font-family="'Liberation Sans', sans-serif" font-weight="normal" fill="#1c1c1c">(T+I)</text>
</svg>
</body></html>
